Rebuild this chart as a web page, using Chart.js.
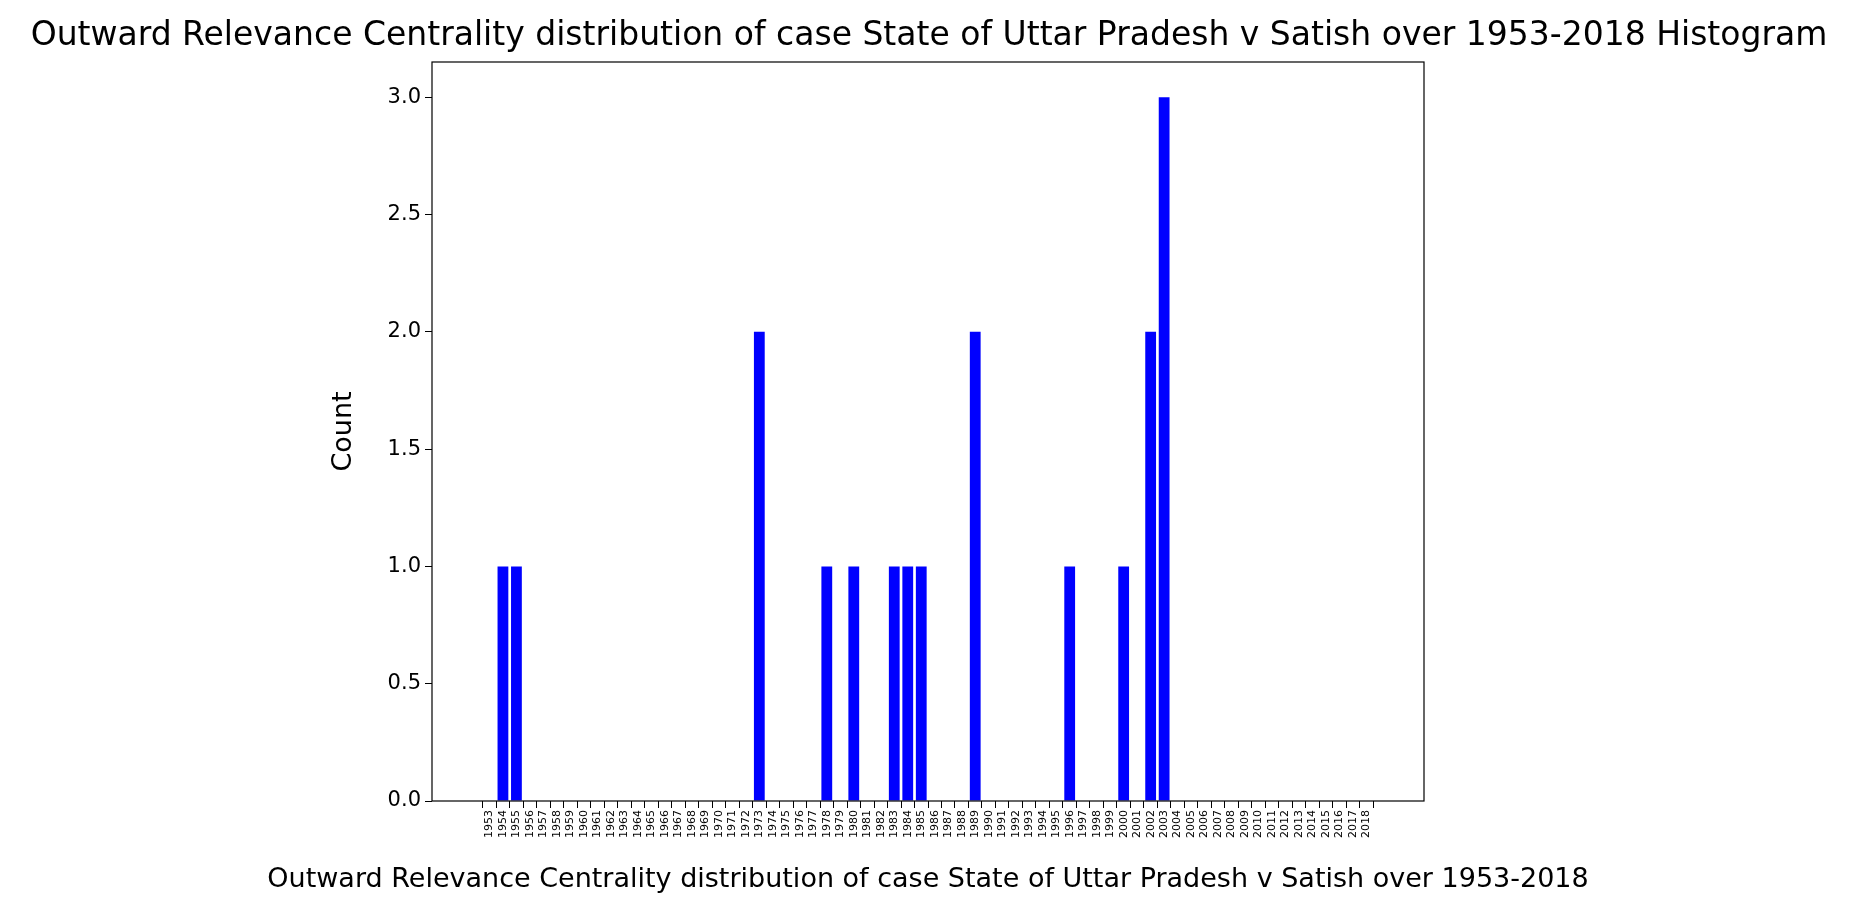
<!DOCTYPE html>
<html><head><meta charset="utf-8">
<script src="https://cdn.jsdelivr.net/npm/chart.js@4"></script>
<style>html,body{margin:0;padding:0;background:#fff}#w{width:1858px;height:915px}</style>
</head><body><div id="w"><canvas id="c"></canvas></div>
<script>
const years = [];
for (let y = 1953; y <= 2018; y++) years.push(String(y));
const nonZeroYears = ["1954","1955","1973","1978","1980","1983","1984","1985","1989","1996","2000","2002","2003"];
const nonZeroCounts = [1,1,2,1,1,1,1,1,2,1,1,2,3];
const counts = years.map(y => { const i = nonZeroYears.indexOf(y); return i >= 0 ? nonZeroCounts[i] : 0; });
const yTicks = [0,0.5,1,1.5,2,2.5,3];
const titleText = "Outward Relevance Centrality distribution of case State of Uttar Pradesh v Satish over 1953-2018 Histogram";
const xLabel = "Outward Relevance Centrality distribution of case State of Uttar Pradesh v Satish over 1953-2018";
const yLabel = "Count";
const FONT = "'DejaVu Sans', sans-serif";

const deco = {
  id: 'deco',
  afterDraw(chart) {
    const ctx = chart.ctx, a = chart.chartArea;
    ctx.save();
    ctx.strokeStyle = '#000'; ctx.lineWidth = 1.2;
    ctx.strokeRect(a.left, a.top, a.right - a.left, a.bottom - a.top);
    ctx.fillStyle = '#000';
    ctx.textAlign = 'center'; ctx.textBaseline = 'middle';
    ctx.font = "33px " + FONT;
    ctx.fillText(titleText, 929, 36);
    ctx.font = "27px " + FONT;
    ctx.fillText(xLabel, (a.left + a.right) / 2, 880);
    ctx.translate(344, (a.top + a.bottom) / 2);
    ctx.rotate(-Math.PI / 2);
    ctx.fillText(yLabel, 0, 0);
    ctx.restore();
  }
};

new Chart(document.getElementById('c'), {
  type: 'bar',
  data: { datasets: [{ data: counts.map((v, i) => ({x: i, y: v})), backgroundColor: '#0000ff', borderWidth: 0, barPercentage: 0.8, categoryPercentage: 1.0 }] },
  options: {
    responsive: true, maintainAspectRatio: false, animation: false,
    layout: { padding: { top: 62, right: 434, left: 0, bottom: 0 } },
    plugins: { legend: { display: false }, tooltip: { enabled: false } },
    scales: {
      x: {
        type: 'linear', min: -3.7, max: 68.7,
        afterBuildTicks: s => { s.ticks = years.map((_, i) => ({value: i})); },
        afterFit: s => { s.height = 114; },
        grid: { drawOnChartArea: false, drawTicks: true, tickLength: 7, color: '#000' },
        border: { display: false },
        ticks: { autoSkip: false, minRotation: 90, maxRotation: 90, padding: 2, color: '#000', font: { size: 11, family: FONT }, callback: v => years[v] }
      },
      y: {
        min: 0, max: 3.15,
        afterBuildTicks: s => { s.ticks = yTicks.map(v => ({value: v})); },
        afterFit: s => { s.width = 432; },
        grid: { drawOnChartArea: false, drawTicks: true, tickLength: 7, color: '#000' },
        border: { display: false },
        ticks: { padding: 4, color: '#000', font: { size: 21, family: FONT }, callback: v => v.toFixed(1) }
      }
    }
  },
  plugins: [deco]
});
</script></body></html>
